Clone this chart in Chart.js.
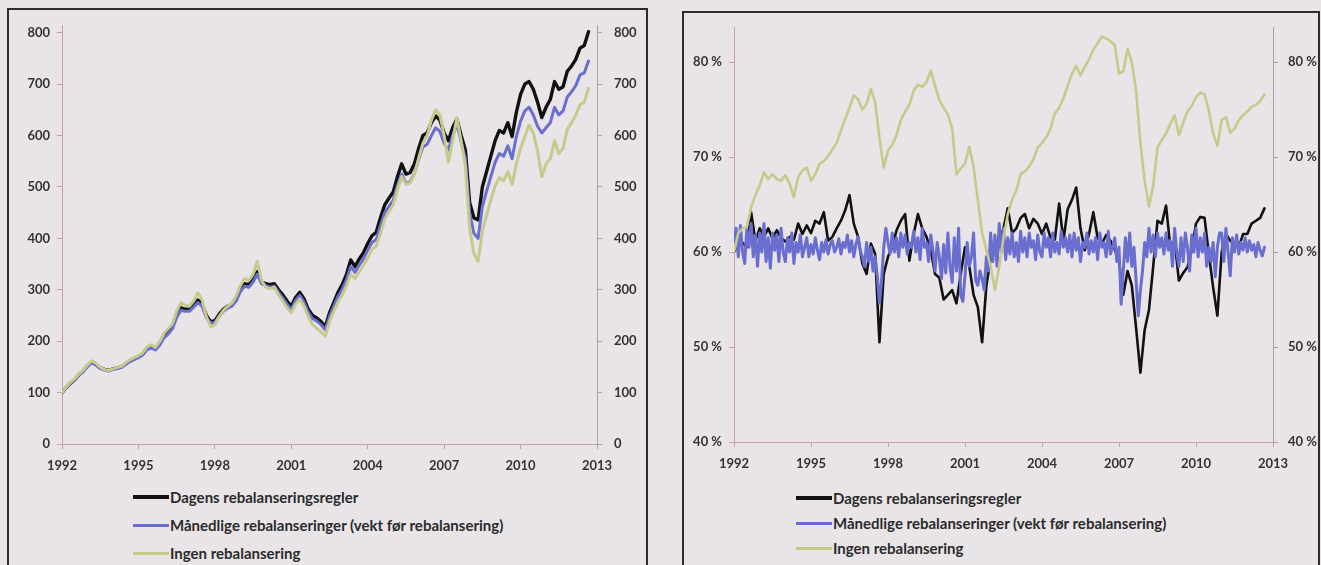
<!DOCTYPE html>
<html>
<head>
<meta charset="utf-8">
<script src="https://cdn.jsdelivr.net/npm/chart.js@4/dist/chart.umd.min.js"></script>
<style>
  html, body { margin: 0; padding: 0; background: #e8e4e8; }
  body { width: 1321px; height: 565px; position: relative; overflow: hidden; font-family: Lato, "Open Sans", sans-serif; }
  .frame { position: absolute; border: 2px solid #2c2c2c; border-bottom: none; }
  #frameL { left: 7px; top: 8px; width: 637px; height: 600px; }
  #frameR { left: 682px; top: 11px; width: 634px; height: 600px; }
  canvas { position: absolute; top: 0; }
  #chartL { left: 0; }
  #chartR { left: 660px; }
  .legend { position: absolute; font: bold 15px Lato, sans-serif; color: #2b2b2b; }
  .legend div { position: absolute; left: 0; white-space: nowrap; display: flex; align-items: center; height: 22px; margin-top: -11px; }
  .legend i { display: inline-block; width: 36px; margin-right: 1px; }
</style>
</head>
<body>
<div class="frame" id="frameL"></div>
<div class="frame" id="frameR"></div>
<canvas id="chartL" width="660" height="480"></canvas>
<canvas id="chartR" width="661" height="480"></canvas>

<div class="legend" id="legendL" style="left:133px;top:0;"></div>
<div class="legend" id="legendR" style="left:796px;top:0;"></div>

<script>
// Series names
const SERIES_NAMES = [
  'Dagens rebalanseringsregler',
  'Månedlige rebalanseringer (vekt før rebalansering)',
  'Ingen rebalansering'
];
const SERIES_COLORS = ['#111111', '#6a6fcf', '#c6ca8a'];

// Time axis: every second month from Jan 1992, and monthly for the noisiest series
const PERIODS_2M = Array.from({ length: 125 }, (_, i) => 1992 + i / 6);
const PERIODS_1M = Array.from({ length: 249 }, (_, i) => 1992 + i / 12);
const YEAR_TICKS = [1992, 1995, 1998, 2001, 2004, 2007, 2010, 2013];

// Left panel: index value (1992 = 100), one row per year
const indexDagens = [
  100,110,118,125,135,142,
  152,160,155,148,145,143,
  146,148,150,156,162,166,
  170,175,186,190,185,195,
  210,218,228,250,265,262,
  262,270,280,272,250,238,
  240,252,262,268,272,282,
  300,312,310,320,335,315,
  312,310,312,300,290,278,
  268,285,295,282,262,250,
  245,238,228,255,275,295,
  310,330,358,345,360,372,
  390,405,412,440,465,478,
  490,520,545,525,528,545,
  575,600,605,625,638,630,
  605,590,615,632,600,572,
  470,440,436,500,530,560,
  590,610,605,625,598,645,
  680,700,705,690,665,635,
  655,670,705,690,695,725,
  735,748,770,775,802
];
const indexManedlig = [
  100,110,118,125,134,141,
  151,158,153,147,144,142,
  145,147,149,155,160,164,
  168,173,183,187,183,192,
  206,214,224,246,260,258,
  258,266,275,268,246,235,
  237,248,258,264,268,278,
  296,307,305,315,330,312,
  308,305,307,295,284,272,
  262,279,289,276,256,244,
  239,232,222,248,268,287,
  301,320,345,334,348,360,
  377,392,398,425,450,462,
  474,503,525,507,510,526,
  554,578,583,600,615,608,
  585,572,600,622,588,555,
  450,410,400,462,492,520,
  548,565,560,580,555,598,
  628,648,655,640,618,605,
  615,625,655,640,648,675,
  685,697,718,722,745
];
const indexIngen = [
  100,111,120,127,136,144,
  154,162,157,149,145,143,
  146,149,151,158,164,168,
  172,177,189,193,188,199,
  215,224,234,258,275,270,
  268,278,294,280,248,228,
  232,248,260,268,274,288,
  308,322,318,330,355,318,
  305,302,305,290,278,265,
  255,272,282,268,248,232,
  225,218,210,238,258,276,
  290,308,330,322,335,348,
  362,378,385,410,437,452,
  465,495,520,505,508,525,
  556,585,600,630,650,640,
  600,548,590,635,590,540,
  420,370,355,415,445,475,
  502,518,512,530,505,545,
  575,598,620,605,570,520,
  545,555,590,565,575,612,
  625,640,660,665,692
];

// Right panel: equity share in percent
const shareDagens = [
  60.0,60.8,61.0,60.5,64.2,61.2,
  62.5,61.6,62.5,61.4,62.3,61.5,
  61.1,61.6,61.3,63.0,61.9,62.8,
  62.0,63.3,63.0,64.2,61.2,61.6,
  62.5,63.3,64.4,66.0,63.0,61.6,
  58.8,57.7,60.9,59.8,50.5,57.7,
  59.5,60.5,62.3,63.3,64.0,59.1,
  61.9,64.0,62.5,61.6,60.2,57.7,
  57.3,55.0,55.5,56.0,54.6,57.7,
  60.5,58.5,55.5,54.2,50.5,56.5,
  59.3,60.2,61.2,62.5,64.6,62.0,
  62.5,63.6,64.0,62.5,63.5,63.0,
  61.9,63.0,61.5,61.3,65.1,61.2,
  64.5,65.5,66.8,62.5,60.2,61.9,
  64.2,61.5,60.9,61.8,61.2,60.3,
  59.0,55.5,58.0,56.5,52.0,47.3,
  51.8,53.9,58.5,63.3,63.0,64.9,
  60.5,61.2,57.0,57.8,58.4,60.2,
  63.0,63.7,63.6,59.8,56.3,53.3,
  60.0,61.9,61.2,60.8,60.5,61.9,
  61.9,63.0,63.3,63.6,64.6
];
const shareManedlig = [
  61.0,62.5,59.5,62.8,60.0,58.8,62.5,60.5,63.0,59.5,61.8,58.5,
  62.0,60.0,63.0,59.0,61.5,58.3,62.0,60.2,61.8,59.0,62.5,60.0,
  59.0,61.5,60.0,62.0,58.8,61.0,60.0,61.8,59.5,60.5,61.5,59.5,
  60.8,59.8,61.5,60.2,59.2,61.0,60.0,61.3,59.8,60.8,61.2,60.0,
  60.5,61.4,59.8,61.0,60.5,61.8,60.0,61.2,59.5,60.8,61.6,60.2,
  59.5,58.5,61.0,59.0,60.5,58.0,59.5,57.5,54.6,57.0,60.5,62.5,
  61.0,59.8,62.0,60.0,61.5,59.5,62.0,60.5,61.8,59.8,61.0,60.5,
  62.2,60.0,61.5,59.2,62.5,60.5,61.0,59.0,61.8,60.2,58.0,61.0,
  59.5,57.2,60.8,57.8,62.0,58.5,56.8,61.5,58.0,62.5,55.5,54.8,
  57.5,61.0,58.5,59.5,62.0,57.0,56.5,58.0,57.2,56.0,59.5,58.0,
  62.0,59.0,61.8,58.5,63.0,60.0,62.5,59.2,61.5,59.8,62.0,59.5,
  61.0,59.0,62.2,60.0,61.5,59.5,62.0,60.5,61.2,59.2,61.8,60.0,
  59.5,62.0,60.5,61.5,59.5,62.0,60.0,61.0,59.8,62.2,60.5,61.5,
  60.0,61.8,59.5,62.0,60.2,61.5,59.0,61.0,60.5,62.0,59.8,61.2,
  60.0,61.5,59.2,62.0,60.5,61.0,59.5,62.2,59.8,60.5,61.5,59.0,
  60.5,54.5,58.0,61.5,59.0,62.0,58.5,60.5,57.0,53.3,56.0,58.0,
  61.0,59.5,62.5,60.0,61.8,59.5,62.0,60.5,61.5,59.8,62.0,60.2,
  61.2,58.5,62.5,60.0,58.5,61.5,59.0,62.0,60.5,58.0,61.8,60.0,
  62.5,59.5,61.5,60.0,62.0,58.5,60.5,59.0,61.0,57.4,60.5,62.0,
  62.0,59.0,62.5,60.0,57.5,61.5,60.0,61.8,59.8,61.0,60.2,61.5,
  60.0,61.2,60.2,60.8,59.5,61.0,60.2,59.6,60.5
];
const shareIngen = [
  60.0,62.0,62.5,62.6,64.7,66.0,
  67.0,68.4,67.7,68.2,67.7,67.5,
  68.1,67.2,65.8,67.9,68.6,68.9,
  67.5,68.2,69.3,69.6,70.1,70.8,
  71.5,72.8,74.0,75.2,76.5,76.1,
  75.0,75.6,77.2,75.8,72.0,68.9,
  70.7,71.3,72.3,73.9,74.8,75.5,
  77.0,77.6,77.4,77.9,79.1,77.5,
  76.0,75.2,74.5,73.0,68.2,68.8,
  69.3,71.1,69.0,65.5,62.0,60.2,
  58.5,56.0,58.5,61.5,64.0,65.5,
  66.5,68.2,68.5,69.0,69.8,71.0,
  71.5,72.1,73.0,74.6,75.2,76.2,
  77.5,78.8,79.6,78.6,79.5,80.3,
  81.3,82.0,82.7,82.5,82.2,81.8,
  78.8,79.0,81.4,80.0,77.0,71.5,
  67.5,64.8,67.0,71.0,71.8,72.5,
  73.5,74.4,72.3,73.6,74.8,75.4,
  76.3,76.8,76.6,74.9,72.5,71.2,
  73.9,74.2,72.6,73.0,73.9,74.4,
  74.8,75.3,75.5,75.9,76.6
];

const INDEX_TICKS = [0, 100, 200, 300, 400, 500, 600, 700, 800];
const SHARE_TICKS = [40, 50, 60, 70, 80];

const toPoints = (xs, ys) => ys.map((y, i) => ({ x: xs[i], y }));

const TICK_FONT = { family: 'Lato', size: 13, weight: 'bold' };
const TICK_COLOR = '#333333';

function lineSet(label, data, color, width, order) {
  return {
    label, data, borderColor: color, backgroundColor: color,
    borderWidth: width, pointRadius: 0, tension: 0, order,
    borderJoinStyle: 'round', borderCapStyle: 'round'
  };
}

function axisY(position, min, max, ticks, fmt, width, pad, axisColor) {
  return {
    type: 'linear', position, min, max,
    afterBuildTicks: s => { s.ticks = ticks.map(v => ({ value: v })); },
    afterFit: s => { s.width = width; },
    grid: { drawOnChartArea: false, drawTicks: true, tickLength: 5, color: axisColor },
    border: { display: true, color: axisColor, width: 1 },
    ticks: { font: TICK_FONT, color: TICK_COLOR, padding: pad, callback: fmt }
  };
}

function axisX(height, axisColor) {
  return {
    type: 'linear', position: 'bottom', min: 1992, max: 2013,
    afterBuildTicks: s => { s.ticks = YEAR_TICKS.map(v => ({ value: v })); },
    afterFit: s => { s.height = height; },
    grid: { drawOnChartArea: false, drawTicks: true, tickLength: 5, color: axisColor },
    border: { display: true, color: axisColor, width: 1 },
    ticks: { font: TICK_FONT, color: TICK_COLOR, padding: 9, maxRotation: 0, callback: v => String(v) }
  };
}

const common = {
  type: 'line',
  options: {
    responsive: false, animation: false, devicePixelRatio: 1,
    plugins: { legend: { display: false }, tooltip: { enabled: false } },
    elements: { line: { fill: false } }
  }
};

// Left panel: value development
new Chart(document.getElementById('chartL'), {
  ...common,
  data: {
    datasets: [
      lineSet(SERIES_NAMES[0], toPoints(PERIODS_2M, indexDagens), SERIES_COLORS[0], 3.4, 3),
      lineSet(SERIES_NAMES[1], toPoints(PERIODS_2M, indexManedlig), SERIES_COLORS[1], 3, 2),
      lineSet(SERIES_NAMES[2], toPoints(PERIODS_2M, indexIngen), SERIES_COLORS[2], 3, 1)
    ]
  },
  options: {
    ...common.options,
    layout: { padding: { top: 25, left: 0, right: 0, bottom: 0 } },
    scales: {
      x: axisX(36, '#c9a2a8'),
      y: axisY('left', 0, 815, INDEX_TICKS, v => String(v), 62, 7, '#c9a2a8'),
      y2: axisY('right', 0, 815, INDEX_TICKS, v => String(v), 63, 12, '#a8a0a4')
    }
  }
});

// Right panel: equity share
new Chart(document.getElementById('chartR'), {
  ...common,
  data: {
    datasets: [
      lineSet(SERIES_NAMES[0], toPoints(PERIODS_2M, shareDagens), SERIES_COLORS[0], 2.6, 3),
      lineSet(SERIES_NAMES[1], toPoints(PERIODS_1M, shareManedlig), SERIES_COLORS[1], 3, 2),
      lineSet(SERIES_NAMES[2], toPoints(PERIODS_2M, shareIngen), SERIES_COLORS[2], 2.6, 1)
    ]
  },
  options: {
    ...common.options,
    layout: { padding: { top: 27, left: 0, right: 0, bottom: 0 } },
    scales: {
      x: axisX(38, '#c9a2a8'),
      y: axisY('left', 40, 83.7, SHARE_TICKS, v => v + ' %', 74, 7, '#c9a2a8'),
      y2: axisY('right', 40, 83.7, SHARE_TICKS, v => v + ' %', 48, 10, '#a8a0a4')
    }
  }
});

// Legends below each panel
function buildLegend(id, rows) {
  const box = document.getElementById(id);
  SERIES_NAMES.forEach((name, i) => {
    const row = document.createElement('div');
    row.style.top = rows[i] + 'px';
    const swatch = document.createElement('i');
    swatch.style.height = (i === 0 ? 4 : 3) + 'px';
    swatch.style.background = SERIES_COLORS[i];
    row.appendChild(swatch);
    row.appendChild(document.createTextNode(name));
    box.appendChild(row);
  });
}
buildLegend('legendL', [497, 525, 553]);
buildLegend('legendR', [498, 523, 548]);
</script>
</body>
</html>
